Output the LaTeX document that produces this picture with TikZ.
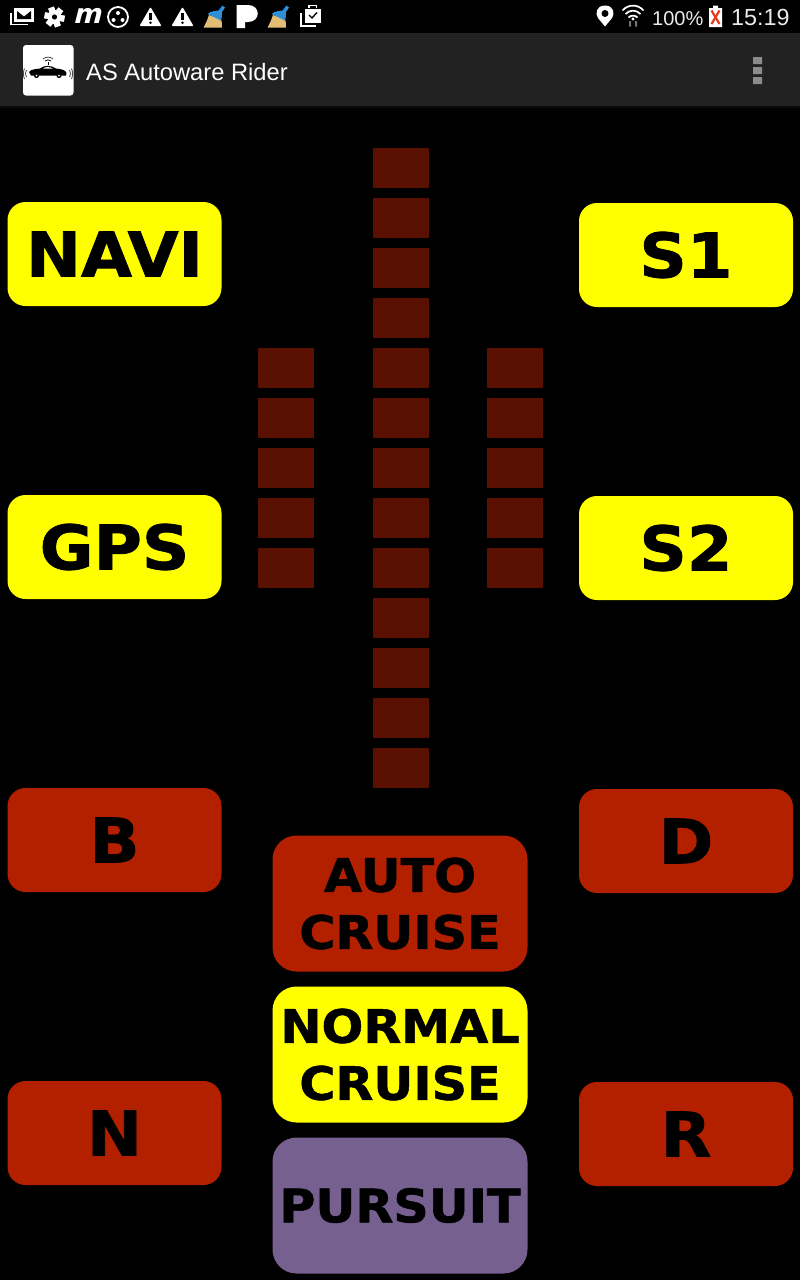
\documentclass[tikz,border=0pt]{standalone}
\usepackage{fontspec}
\setmainfont{Liberation Sans}
\newfontfamily\btnfont{DejaVu Sans Bold}[FakeBold=1.2,FakeStretch=1.07]
\newfontfamily\logofont{DejaVu Sans Bold}[FakeSlant=0.25]
\definecolor{btnyellow}{HTML}{FFFF00}
\definecolor{btnred}{HTML}{B32000}
\definecolor{btnpurple}{HTML}{75608F}
\definecolor{brick}{HTML}{5A1000}
\definecolor{barbg}{HTML}{222222}
\definecolor{broomtan}{HTML}{E3BE72}
\definecolor{broomblue}{HTML}{2E8FD6}
\definecolor{battx}{HTML}{E5391A}
\tikzset{
  btn/.style={draw=none,inner sep=0pt,text=black,align=center},
  wide/.style={btn,rounded corners=18pt,minimum width=214pt,minimum height=104pt,font=\btnfont\fontsize{61.5}{61.5}\selectfont},
  mid/.style={btn,rounded corners=24pt,minimum width=255pt,minimum height=136pt,font=\btnfont\fontsize{46}{57}\selectfont},
  brickbox/.style={fill=brick,draw=none,minimum width=56pt,minimum height=40pt,inner sep=0pt},
  bartext/.style={text=white,inner sep=0pt,anchor=base west},
  icoline/.style={draw=white,line width=1.8pt,fill=none},
}
\begin{document}
\begin{tikzpicture}[x=1pt,y=-1pt]
\useasboundingbox (0,0) rectangle (800,1280);
\fill[black] (0,0) rectangle (800,1280);
\fill[barbg] (0,33) rectangle (800,106);
\fill[black!70!barbg] (0,106) rectangle (800,108);
\fill[white,rounded corners=3pt] (23,45) rectangle (73.5,95.5);
\fill[black] (29,72) .. controls (31,69) and (37,69) .. (40,68.5) .. controls (44,65) and (51,65) .. (56,68.5) .. controls (61,69) and (66,70) .. (66.5,73) -- (66,75.5) -- (31,75.5) -- cycle;
\fill[white] (43,68.7) .. controls (45,66.5) and (50,66.5) .. (53,68.7) -- cycle;
\fill[black] (36.5,75.5) circle (2.6) (59,75.5) circle (2.6);
\fill[white] (36.5,75.5) circle (1) (59,75.5) circle (1);
\draw[black,line width=.8pt] (48,65) -- (48,62);
\draw[black,line width=.8pt] (45,61) .. controls (47,59.5) and (49,59.5) .. (51,61);
\draw[black!70,line width=.8pt] (43,59) .. controls (46,56.5) and (50,56.5) .. (53,59);
\draw[black!70,line width=.8pt] (26.5,70) .. controls (25,72) and (25,75) .. (26.5,77);
\draw[black!70,line width=.8pt] (24.5,68.5) .. controls (23,72) and (23,75) .. (24.5,79);
\draw[black!70,line width=.8pt] (69.5,70) .. controls (71,72) and (71,75) .. (69.5,77);
\draw[black!70,line width=.8pt] (71.5,68.5) .. controls (73,72) and (73,75) .. (71.5,79);
\node[bartext,font=\fontsize{23.7}{24}\selectfont] (title) at (86,80) {AS Autoware Rider};
\fill[black!45!white] (753,57) rectangle (762,64) (753,67) rectangle (762,74) (753,77) rectangle (762,84);
% mail
\draw[icoline] (11,12.5) -- (11,24.5) -- (28,24.5);
\fill[white] (14,7.5) rectangle (34,21.5);
\fill[black] (17,11) -- (17,19) -- (31,19) -- (31,11) -- (24,16.5) -- cycle;
% gear
\foreach \a in {0,60,...,300}{\fill[white,rotate around={\a+20:(54.5,17)}] (51.5,7) rectangle (57.5,27);}
\fill[white] (54.5,17) circle (7);
\fill[black] (54.5,17) circle (2.6);
% m
\node[inner sep=0pt,text=white] (mlogo) at (87,15.5) {\logofont\fontsize{27}{27}\selectfont m};
% circle
\draw[white,line width=1.8pt] (118,17) circle (10);
\fill[white] (118,13) circle (2) (113.5,20) circle (2) (122.5,20) circle (2);
% warnings
\foreach \cx in {150.5,182.5}{
  \fill[white,rounded corners=1pt] (\cx,7) -- (\cx+11,26) -- (\cx-11,26) -- cycle;
  \fill[black] (\cx-1.2,12.5) rectangle (\cx+1.2,20);
  \fill[black] (\cx,22.8) circle (1.4);
}
% brooms
\foreach \ox in {0,64}{
  \begin{scope}[shift={(\ox,0)}]
  \fill[broomtan] (209,15) .. controls (207,21) and (205,25) .. (203.5,27.5) -- (222,27.5) .. controls (222,24) and (222,22) .. (221,19) -- cycle;
  \fill[broomblue] (207.5,14) .. controls (211,11) and (215,11) .. (218.5,10.5) -- (222.5,5.5) -- (225,7.5) -- (222,12) .. controls (222,15) and (222,18) .. (221,20.5) -- cycle;
  \end{scope}
}
% P
\fill[white] (236.5,5) -- (248,5) .. controls (261,5) and (261,22) .. (248,22) -- (245,22) -- (245,28) -- (236.5,28) -- cycle;
% clipboard
\fill[white] (305,8.5) rectangle (320.5,22.5);
\draw[white,line width=1.4pt] (309,8) -- (309,5.5) -- (316.5,5.5) -- (316.5,8);
\draw[black,line width=1.4pt] (309,15) -- (312,18) -- (317,12.5);
\draw[icoline] (301,13) -- (301,26) -- (316,26);
% status right
\fill[white] (605,5.5) .. controls (596,5.5) and (595,14) .. (598,18) -- (605,26.5) -- (612,18) .. controls (615,14) and (614,5.5) .. (605,5.5) -- cycle;
\fill[black] (605,13.5) circle (3.5);
\draw[white,line width=1.7pt] (622.5,10.5) .. controls (628,4) and (638,4) .. (643.5,10.5);
\draw[white,line width=1.7pt] (625.5,14) .. controls (630,9.5) and (636,9.5) .. (640.5,14);
\draw[white,line width=1.7pt] (628.5,17.5) .. controls (631,15) and (635,15) .. (637.5,17.5);
\fill[white] (633,19) circle (1.6);
\fill[black!55!white] (629,21) rectangle (631,26.5) (635,21) rectangle (637,26.5);
\node[bartext,text=white!92!black,font=\fontsize{20}{22}\selectfont] (pct) at (652,25) {100\%};
\fill[white] (709,8) rectangle (722,27) (713,5.5) rectangle (718,8);
\draw[battx,line width=2.2pt] (711.5,10.5) -- (719.5,24);
\draw[battx,line width=2.2pt] (719.5,10.5) -- (711.5,24);
\node[bartext,text=white!92!black,font=\fontsize{23.3}{24}\selectfont] (clock) at (731,25.5) {15:19};
% bricks
\foreach \i in {0,...,12}{\node[brickbox] (c\i) at (401,168+50*\i) {};}
\foreach \i in {0,...,4}{
  \node[brickbox] (l\i) at (286,368+50*\i) {};
  \node[brickbox] (r\i) at (515,368+50*\i) {};
}
% buttons
\node[wide,fill=btnyellow] (navi) at (114.5,254) {NAVI};
\node[wide,fill=btnyellow] (s1) at (686,255) {S1};
\node[wide,fill=btnyellow] (gps) at (114.5,547) {GPS};
\node[wide,fill=btnyellow] (s2) at (686,548) {S2};
\node[wide,fill=btnred] (b) at (114.5,840) {B};
\node[wide,fill=btnred] (d) at (686,841) {D};
\node[wide,fill=btnred] (n) at (114.5,1133) {N};
\node[wide,fill=btnred] (r) at (686,1134) {R};
\node[mid,fill=btnred] (auto) at (400,903.5) {AUTO\\CRUISE};
\node[mid,fill=btnyellow] (normal) at (400,1054.5) {NORMAL\\CRUISE};
\node[mid,fill=btnpurple] (pursuit) at (400,1205.5) {PURSUIT};
\end{tikzpicture}
\end{document}
